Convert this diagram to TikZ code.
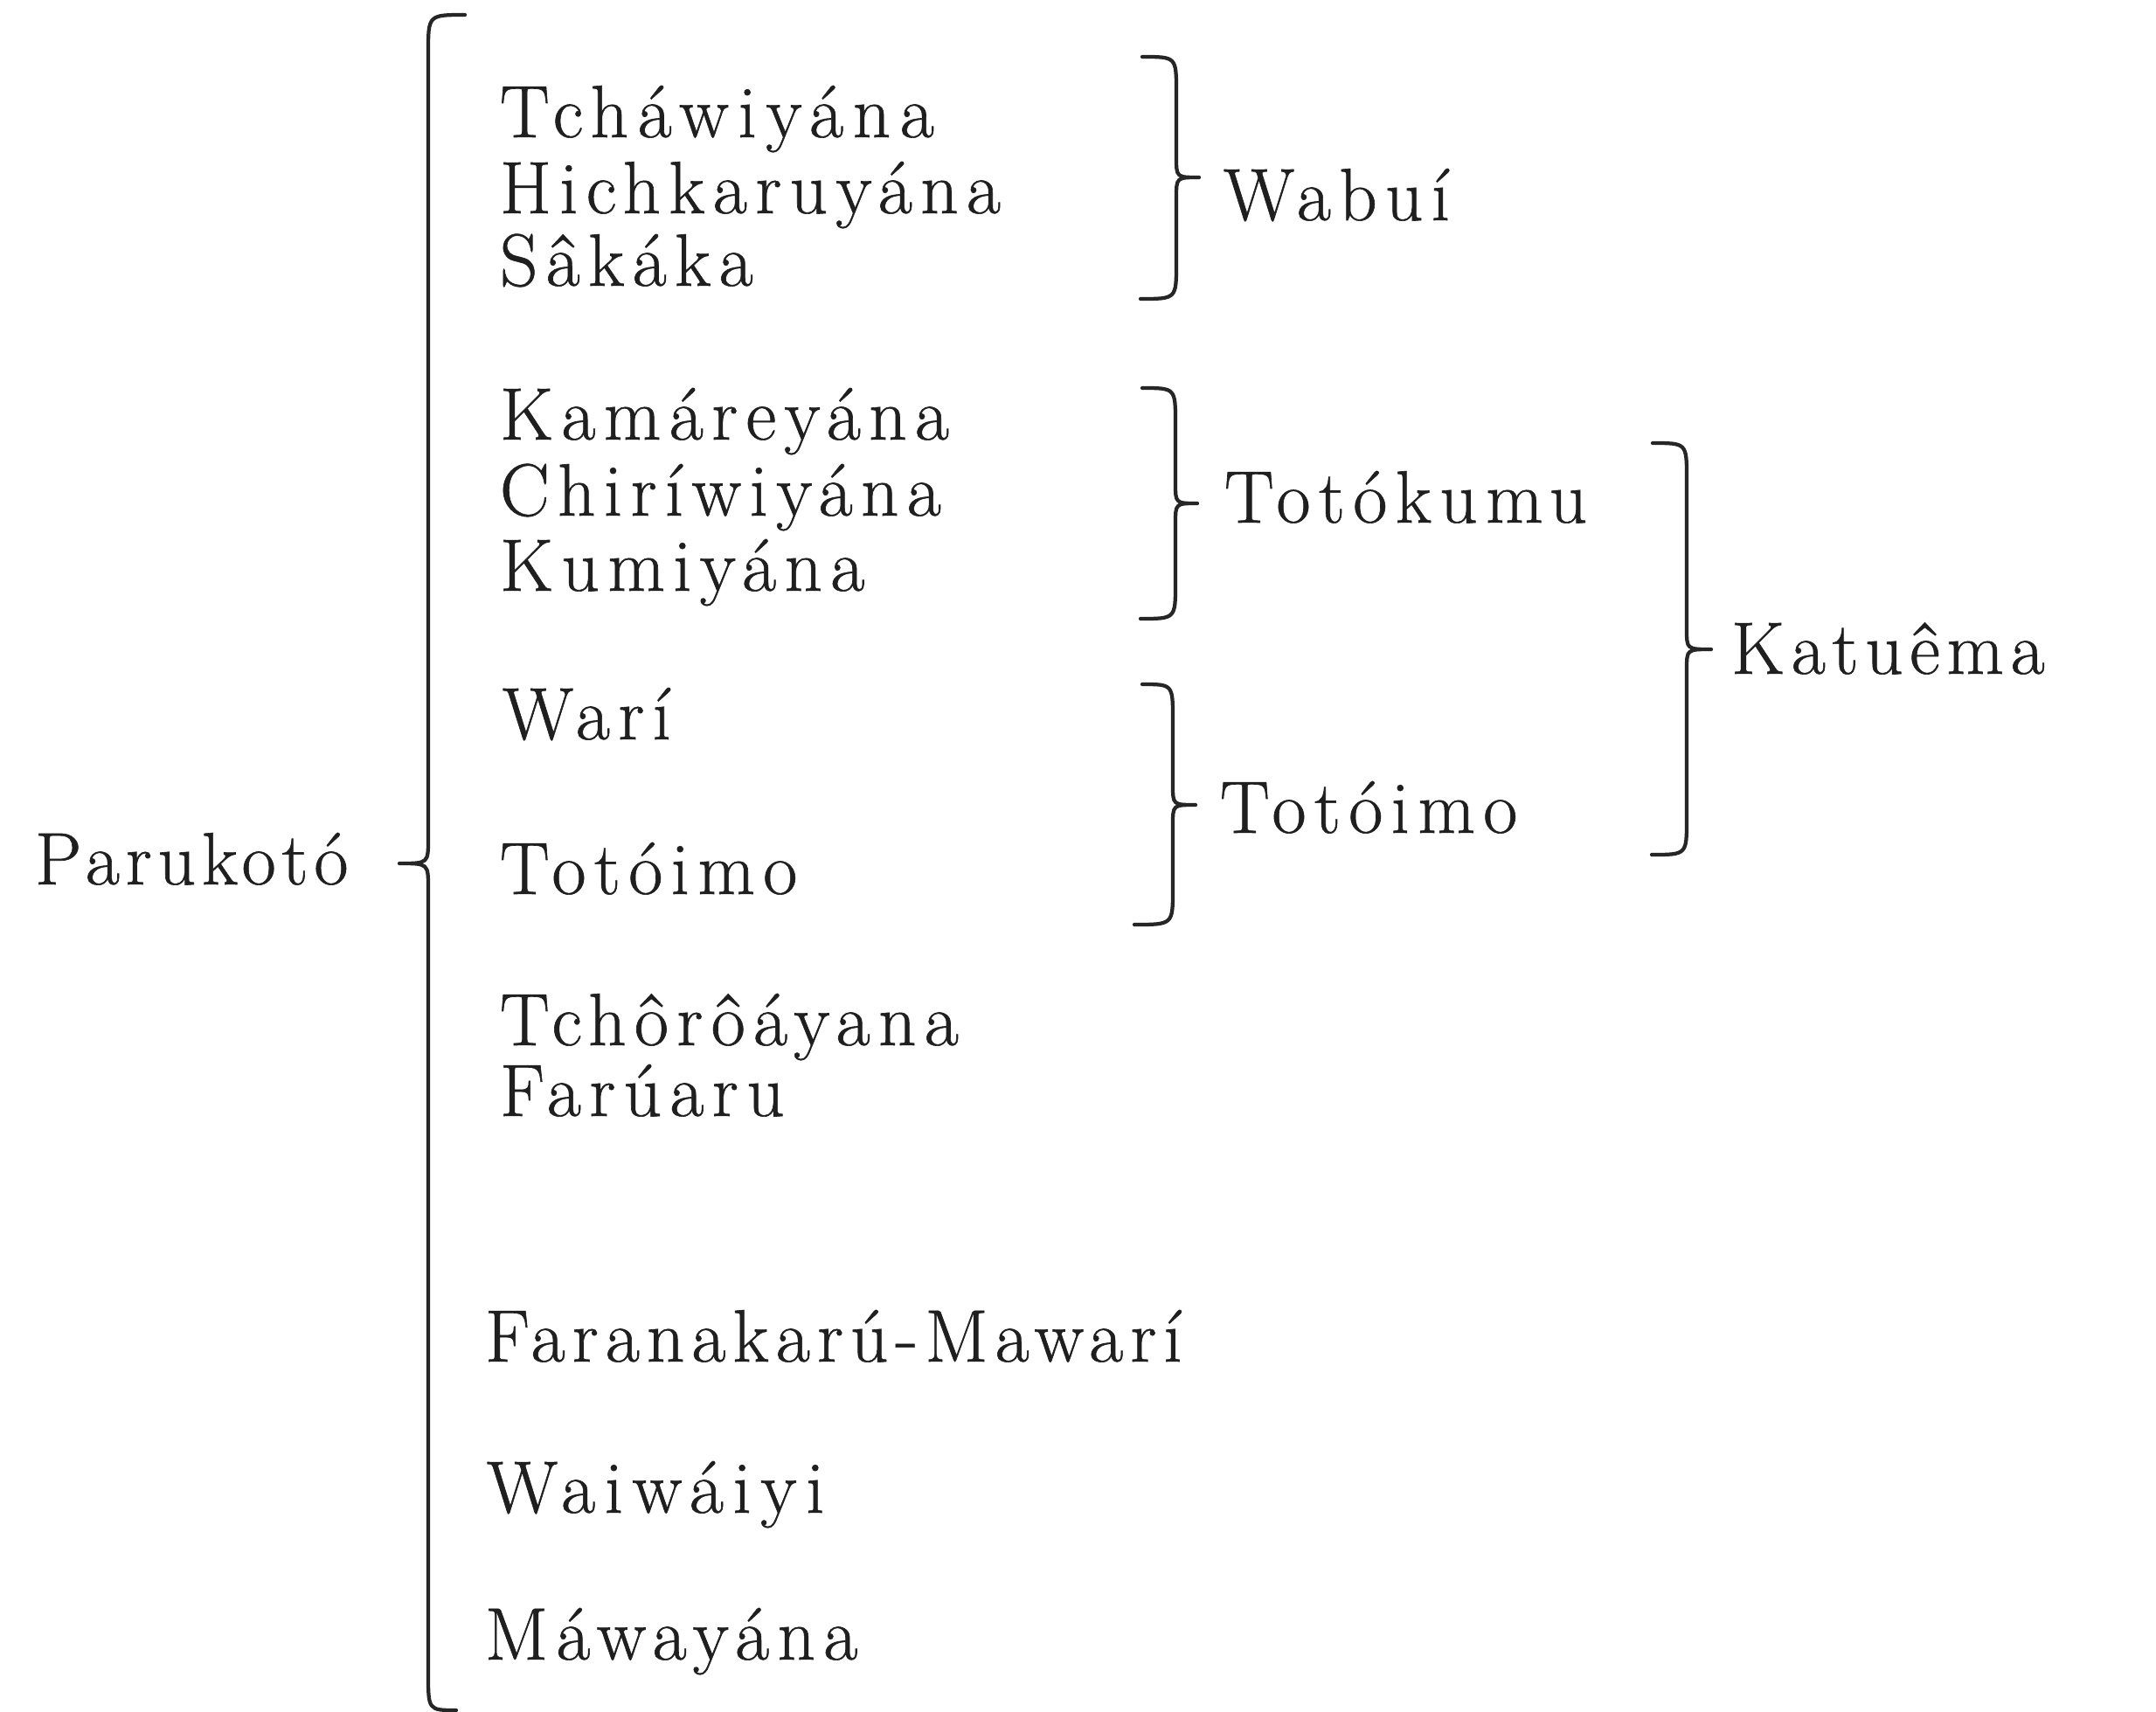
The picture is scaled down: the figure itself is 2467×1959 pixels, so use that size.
\documentclass[tikz,border=0pt]{standalone}
\usepackage{fontspec}
\setmainfont{Latin Modern Roman}[LetterSpace=11,FakeBold=0.7]
\begin{document}
\begin{tikzpicture}[x=0.2pt,y=-0.2pt,
  lbl/.style={anchor=base west,inner sep=0pt,text=black!88,font=\fontsize{17}{20}\selectfont},
  bracestyle/.style={draw=black!85,line width=0.85pt,line cap=round,line join=round}]
\useasboundingbox[fill=white] (0,0) rectangle (2467,1959);
% left column
\node[lbl] (paru) at (39,1012) {\addfontfeatures{LetterSpace=8}Parukotó};
% first column of names
\node[lbl] (tcha) at (571,157) {\addfontfeatures{LetterSpace=12.5}Tcháwiyána};
\node[lbl] (hich) at (571,244) {Hichkaruyána};
\node[lbl] (saka) at (571,327) {Sâkáka};
\node[lbl] (kama) at (571,503) {Kamáreyána};
\node[lbl] (chir) at (571,590) {Chiríwiyána};
\node[lbl] (kumi) at (571,676) {Kumiyána};
\node[lbl] (wari) at (574,846) {Warí};
\node[lbl] (toto1) at (571,1023) {Totóimo};
\node[lbl] (tcho) at (571,1196) {Tchôrôáyana};
\node[lbl] (faru) at (571,1277) {Farúaru};
\node[lbl] (fara) at (554,1558) {\addfontfeatures{LetterSpace=9.5}Faranakarú-Mawarí};
\node[lbl] (waiw) at (556,1731) {\addfontfeatures{LetterSpace=12.5}Waiwáiyi};
\node[lbl] (mawa) at (554,1899) {Máwayána};
% second column
\node[lbl] (wabu) at (1399,252) {Wabuí};
\node[lbl] (totk) at (1400,598) {Totókumu};
\node[lbl] (toto2) at (1395,953) {Totóimo};
% third column
\node[lbl] (katu) at (1980,771) {\addfontfeatures{LetterSpace=9}Katuêma};
% big opening brace
\draw[bracestyle] (532,17) .. controls (490,17) .. (490,60) -- (490,960)
  .. controls (490,988) .. (457,988) .. controls (490,988) .. (490,1016)
  -- (490,1915) .. controls (490,1957) .. (522,1957);
% Wabui brace
\draw[bracestyle] (1307,65) .. controls (1346,65) .. (1346,105) -- (1346,180)
  .. controls (1346,203) .. (1372,203) .. controls (1346,203) .. (1346,226)
  -- (1346,302) .. controls (1346,342) .. (1305,342);
% Totokumu brace
\draw[bracestyle] (1307,444) .. controls (1345,444) .. (1345,484) -- (1345,553)
  .. controls (1345,576) .. (1370,576) .. controls (1345,576) .. (1345,599)
  -- (1345,668) .. controls (1345,708) .. (1305,708);
% Totoimo brace
\draw[bracestyle] (1307,783) .. controls (1342,783) .. (1342,823) -- (1342,898)
  .. controls (1342,921) .. (1368,921) .. controls (1342,921) .. (1342,944)
  -- (1342,1018) .. controls (1342,1058) .. (1298,1058);
% Katuema brace
\draw[bracestyle] (1891,507) .. controls (1930,507) .. (1930,547) -- (1930,720)
  .. controls (1930,743) .. (1958,743) .. controls (1930,743) .. (1930,766)
  -- (1930,938) .. controls (1930,978) .. (1890,978);
\end{tikzpicture}
\end{document}
